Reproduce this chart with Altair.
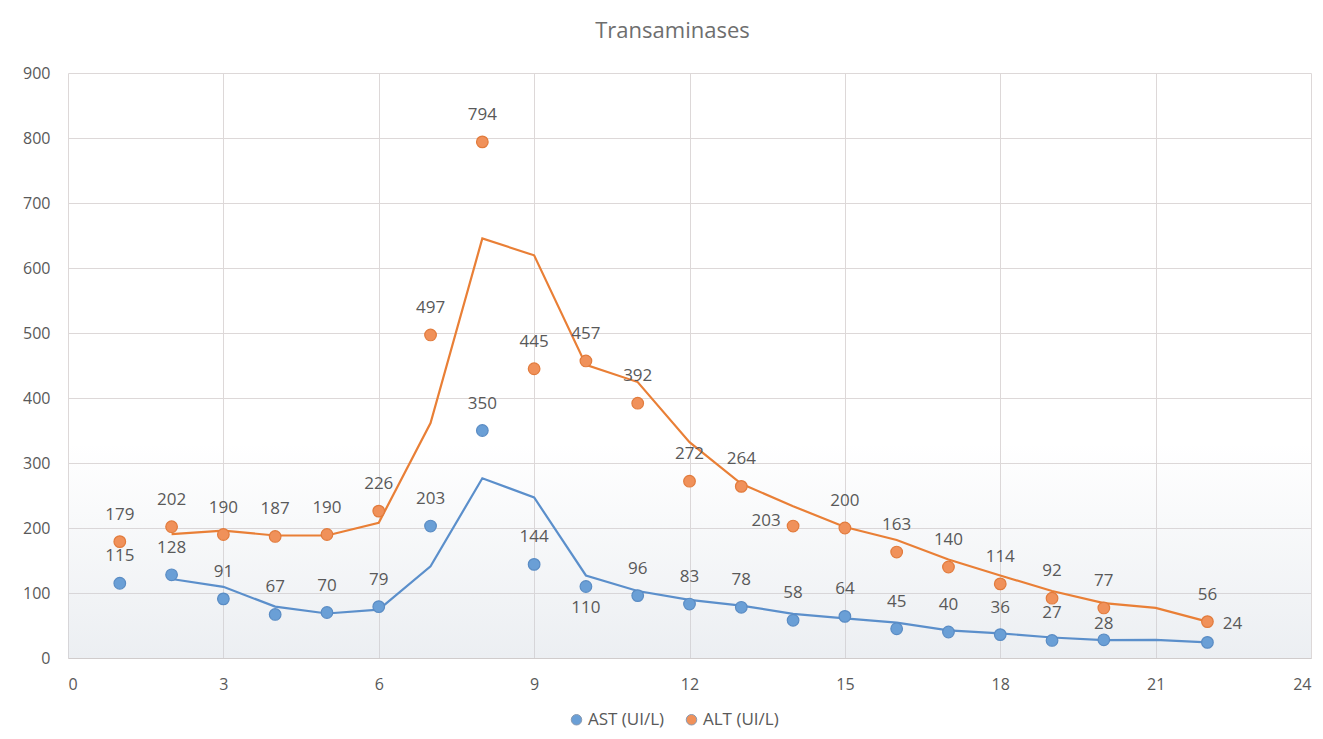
import altair as alt
import pandas as pd

# Daily transaminase values (day 21 was not measured)
days = list(range(1, 23))
ast = [115, 128, 91, 67, 70, 79, 203, 350, 144, 110, 96, 83, 78, 58, 64, 45, 40, 36, 27, 28, None, 24]
alt_vals = [179, 202, 190, 187, 190, 226, 497, 794, 445, 457, 392, 272, 264, 203, 200, 163, 140, 114, 92, 77, None, 56]
series_names = ["AST (UI/L)", "ALT (UI/L)"]
fill_colors = ["#6A9FD6", "#F0915A"]
stroke_colors = ["#5A8CC4", "#E27B3C"]
line_colors = ["#5B8FCB", "#E97F36"]

rows = []
for d, a, b in zip(days, ast, alt_vals):
    rows.append({"day": d, "series": series_names[0], "value": a})
    rows.append({"day": d, "series": series_names[1], "value": b})
df = pd.DataFrame(rows)
df["edge"] = df["series"]

# label offsets (dx, dy) for labels that do not sit straight above their point
label_shift = {
    ("AST (UI/L)", 10): (0, 21),
    ("AST (UI/L)", 20): (0, -16),
    ("AST (UI/L)", 22): (25, -18),
    ("ALT (UI/L)", 14): (-27, -5),
}
df["dx"] = [label_shift.get((s, d), (0, -27))[0] for s, d in zip(df["series"], df["day"])]
df["dy"] = [label_shift.get((s, d), (0, -27))[1] for s, d in zip(df["series"], df["day"])]

W, H = 1243, 585
FONT = "Open Sans"
TEXT = "#595959"

x_scale = alt.Scale(domain=[0, 24], nice=False, zero=False)
y_scale = alt.Scale(domain=[0, 900], nice=False)

base = alt.Chart(df)

# soft shading toward the bottom of the plot area
shade = alt.Chart(pd.DataFrame({"a": [0]})).mark_rect(
    color=alt.Gradient(
        gradient="linear",
        stops=[alt.GradientStop(color="rgba(200,208,218,0)", offset=0),
               alt.GradientStop(color="rgba(200,208,218,0.35)", offset=1)],
        x1=0, x2=0, y1=0, y2=1,
    )
).encode(
    x=alt.value(0), x2=alt.value(W),
    y=alt.datum(330, scale=y_scale), y2=alt.datum(0),
)

grid = base.mark_point(opacity=0).encode(
    x=alt.X("day:Q", scale=x_scale,
            axis=alt.Axis(values=list(range(0, 25, 3)), title=None, grid=True,
                          gridColor="#DDD8D8", ticks=False, domain=True,
                          domainColor="#D0CCCC", labelPadding=18)),
    y=alt.Y("value:Q", scale=y_scale,
            axis=alt.Axis(values=list(range(0, 901, 100)), title=None, grid=True,
                          gridColor="#DDD8D8", ticks=False, domain=False,
                          labelPadding=18)),
)

# two-period moving average trend lines
lines = base.transform_window(
    ma="mean(value)", frame=[-1, 0], groupby=["series"], sort=[{"field": "day"}]
).transform_filter("datum.day >= 2").mark_line(strokeWidth=2.2).encode(
    x=alt.X("day:Q", scale=x_scale),
    y=alt.Y("ma:Q", scale=y_scale),
    stroke=alt.Stroke("edge:N", scale=alt.Scale(domain=series_names, range=line_colors), legend=None),
    detail="series:N",
)

points = base.transform_filter("datum.value != null").mark_point(
    filled=True, size=135, strokeWidth=1.2, opacity=1
).encode(
    x=alt.X("day:Q", scale=x_scale),
    y=alt.Y("value:Q", scale=y_scale),
    fill=alt.Fill("series:N", scale=alt.Scale(domain=series_names, range=fill_colors),
                  legend=alt.Legend(title=None, orient="none", direction="horizontal",
                                    legendX=500, legendY=638, symbolType="circle",
                                    symbolSize=110, symbolStrokeWidth=1,
                                    symbolStrokeColor="#8A9AB0", labelFontSize=17,
                                    labelFont=FONT, labelColor=TEXT, columnPadding=18,
                                    symbolOffset=0, labelOffset=3)),
)

rims = base.transform_filter("datum.value != null").mark_point(
    filled=False, size=135, strokeWidth=1.2, opacity=1
).encode(
    x=alt.X("day:Q", scale=x_scale),
    y=alt.Y("value:Q", scale=y_scale),
    stroke=alt.Stroke("edge:N", scale=alt.Scale(domain=series_names, range=stroke_colors), legend=None),
)

labels = []
for (dx, dy), part in df[df["value"].notna()].groupby(["dx", "dy"]):
    labels.append(
        alt.Chart(part).mark_text(
            dx=int(dx), dy=int(dy), font=FONT, fontSize=17, color=TEXT, baseline="middle"
        ).encode(
            x=alt.X("day:Q", scale=x_scale),
            y=alt.Y("value:Q", scale=y_scale),
            text=alt.Text("value:Q", format=".0f"),
        )
    )

chart = alt.layer(shade, grid, lines, points, rims, *labels).properties(
    width=W, height=H,
    title=alt.TitleParams("Transaminases", font=FONT, fontSize=22, fontWeight="normal",
                          color="#6E6E6E", anchor="middle", dx=-17, offset=22),
    autosize=alt.AutoSizeParams(type="none"),
    padding={"left": 68, "top": 73, "right": 12, "bottom": 81},
).resolve_scale(stroke="independent").configure_view(stroke=None).configure_axis(
    labelFont=FONT, labelFontSize=16, labelColor=TEXT,
)

chart.save("out.html", embed_options={"renderer": "svg", "actions": False})
